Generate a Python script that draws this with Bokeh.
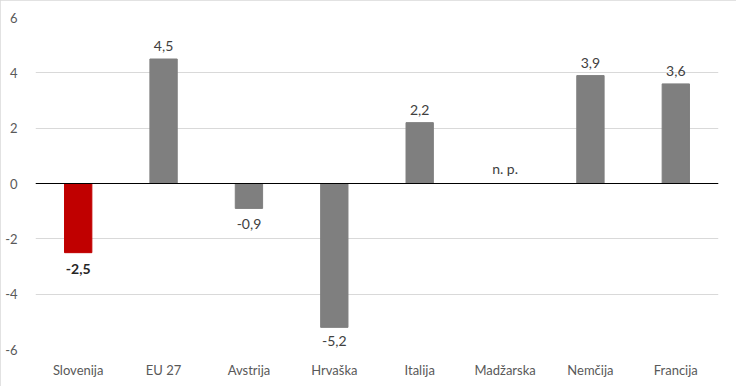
from bokeh.plotting import figure
from bokeh.models import ColumnDataSource, FixedTicker, Span
from bokeh.core.properties import value
from bokeh.embed import file_html
from bokeh.resources import INLINE

categories = ["Slovenija", "EU 27", "Avstrija", "Hrvaška", "Italija", "Madžarska", "Nemčija", "Francija"]
values = [-2.5, 4.5, -0.9, -5.2, 2.2, None, 3.9, 3.6]
bar_colors = ["#C00000", "#7F7F7F", "#7F7F7F", "#7F7F7F", "#7F7F7F", "#7F7F7F", "#7F7F7F", "#7F7F7F"]
y_ticks = [-6, -4, -2, 0, 2, 4, 6]
y_tick_labels = ["-6", "-4", "-2", "0", "2", "4", "6"]
na_label = "n. p."

FONT = "Lato"
Y_MIN, Y_MAX = -6, 6
PLOT_H = 386 - 17 - 37
PX_PER_UNIT = PLOT_H / (Y_MAX - Y_MIN)

p = figure(x_range=categories, y_range=(Y_MIN, Y_MAX), width=736, height=386,
           output_backend="svg", toolbar_location=None,
           min_border_left=35, min_border_right=18, min_border_top=17, min_border_bottom=37)
p.outline_line_color = None
p.background_fill_color = "white"
p.border_fill_color = "white"
p.styles = {"outline": "1px solid #D9D9D9", "outline-offset": "-1px"}

cats_v = [c for c, v in zip(categories, values) if v is not None]
vals_v = [v for v in values if v is not None]
cols_v = [col for col, v in zip(bar_colors, values) if v is not None]
src = ColumnDataSource(dict(x=cats_v, top=vals_v, color=cols_v))
p.vbar(x="x", top="top", bottom=0, width=0.32, color="color", source=src)

p.add_layout(Span(location=0, dimension="width", line_color="black", line_width=1))

def fmt(v):
    return ("%.1f" % v).replace(".", ",")

# positive labels
pos = [(c, v) for c, v in zip(cats_v, vals_v) if v >= 0]
p.text(x=[c for c, _ in pos], y=[v for _, v in pos], text=[fmt(v) for _, v in pos],
       text_align="center", text_baseline="alphabetic", y_offset=-13,
       text_font=value(FONT), text_font_size="14px", text_color="#404040")

# negative labels (kept inside plot area)
for c, v, col in zip(cats_v, vals_v, cols_v):
    if v >= 0:
        continue
    room = (v - Y_MIN) * PX_PER_UNIT - 14
    off = max(2, min(11, room))
    bold = (c == "Slovenija")
    p.text(x=[c], y=[v], text=[fmt(v)],
           text_align="center", text_baseline="top", y_offset=off,
           text_font=value(FONT), text_font_size="14px",
           text_color="#262626" if bold else "#404040",
           text_font_style="bold" if bold else "normal")

na_cats = [c for c, v in zip(categories, values) if v is None]
p.text(x=na_cats, y=[0] * len(na_cats), text=[na_label] * len(na_cats),
       text_align="center", text_baseline="bottom", y_offset=-7,
       text_font=value(FONT), text_font_size="14px", text_color="#404040")

p.yaxis.ticker = FixedTicker(ticks=y_ticks)
p.yaxis.major_label_overrides = dict(zip(y_ticks, y_tick_labels))
p.ygrid.ticker = FixedTicker(ticks=y_ticks)
p.ygrid.grid_line_color = "#D9D9D9"
p.xgrid.grid_line_color = None

for ax in (p.xaxis[0], p.yaxis[0]):
    ax.axis_line_color = None
    ax.major_tick_line_color = None
    ax.minor_tick_line_color = None
    ax.major_label_text_font = FONT
    ax.major_label_text_font_size = "13px"
    ax.major_label_text_color = "#595959"
p.yaxis.major_label_standoff = 12
p.xaxis.major_label_standoff = 6

open("out.html", "w").write(file_html(p, INLINE))
